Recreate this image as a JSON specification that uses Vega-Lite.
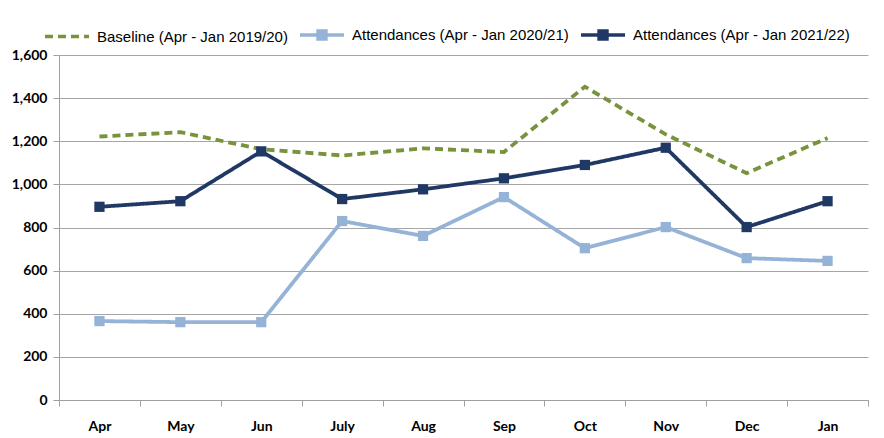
{
  "$schema": "https://vega.github.io/schema/vega-lite/v6.json",
  "width": 809,
  "height": 345,
  "autosize": "none",
  "padding": {"left": 59, "top": 55, "right": 16, "bottom": 38},
  "background": "white",
  "config": {
    "view": {"stroke": null},
    "axis": {"labelFont": "Lato", "labelFontWeight": "bold", "labelFontSize": 14, "labelColor": "#000", "domainColor": "#a0a0a0", "tickColor": "#a0a0a0", "gridColor": "#a6a6a6", "title": null}
  },
  "data": {
    "values": [
      {"month": "Apr", "series": "Baseline (Apr - Jan 2019/20)", "value": 1222},
      {"month": "May", "series": "Baseline (Apr - Jan 2019/20)", "value": 1242},
      {"month": "Jun", "series": "Baseline (Apr - Jan 2019/20)", "value": 1163},
      {"month": "July", "series": "Baseline (Apr - Jan 2019/20)", "value": 1134},
      {"month": "Aug", "series": "Baseline (Apr - Jan 2019/20)", "value": 1167},
      {"month": "Sep", "series": "Baseline (Apr - Jan 2019/20)", "value": 1150},
      {"month": "Oct", "series": "Baseline (Apr - Jan 2019/20)", "value": 1453},
      {"month": "Nov", "series": "Baseline (Apr - Jan 2019/20)", "value": 1232},
      {"month": "Dec", "series": "Baseline (Apr - Jan 2019/20)", "value": 1052},
      {"month": "Jan", "series": "Baseline (Apr - Jan 2019/20)", "value": 1215},
      {"month": "Apr", "series": "Attendances (Apr - Jan 2020/21)", "value": 366},
      {"month": "May", "series": "Attendances (Apr - Jan 2020/21)", "value": 361},
      {"month": "Jun", "series": "Attendances (Apr - Jan 2020/21)", "value": 361},
      {"month": "July", "series": "Attendances (Apr - Jan 2020/21)", "value": 830},
      {"month": "Aug", "series": "Attendances (Apr - Jan 2020/21)", "value": 761},
      {"month": "Sep", "series": "Attendances (Apr - Jan 2020/21)", "value": 941},
      {"month": "Oct", "series": "Attendances (Apr - Jan 2020/21)", "value": 704},
      {"month": "Nov", "series": "Attendances (Apr - Jan 2020/21)", "value": 802},
      {"month": "Dec", "series": "Attendances (Apr - Jan 2020/21)", "value": 658},
      {"month": "Jan", "series": "Attendances (Apr - Jan 2020/21)", "value": 645},
      {"month": "Apr", "series": "Attendances (Apr - Jan 2021/22)", "value": 896},
      {"month": "May", "series": "Attendances (Apr - Jan 2021/22)", "value": 922},
      {"month": "Jun", "series": "Attendances (Apr - Jan 2021/22)", "value": 1153},
      {"month": "July", "series": "Attendances (Apr - Jan 2021/22)", "value": 932},
      {"month": "Aug", "series": "Attendances (Apr - Jan 2021/22)", "value": 977},
      {"month": "Sep", "series": "Attendances (Apr - Jan 2021/22)", "value": 1028},
      {"month": "Oct", "series": "Attendances (Apr - Jan 2021/22)", "value": 1090},
      {"month": "Nov", "series": "Attendances (Apr - Jan 2021/22)", "value": 1170},
      {"month": "Dec", "series": "Attendances (Apr - Jan 2021/22)", "value": 802},
      {"month": "Jan", "series": "Attendances (Apr - Jan 2021/22)", "value": 922}
    ]
  },
  "encoding": {
    "x": {
      "field": "month", "type": "ordinal",
      "sort": ["Apr", "May", "Jun", "July", "Aug", "Sep", "Oct", "Nov", "Dec", "Jan"],
      "scale": {"type": "band", "paddingInner": 0, "paddingOuter": 0},
      "axis": {"labelAngle": 0, "tickBand": "extent", "tickSize": 6, "labelPadding": 13, "grid": false}
    },
    "y": {
      "field": "value", "type": "quantitative",
      "scale": {"domain": [0, 1600], "nice": false},
      "axis": {"values": [0, 200, 400, 600, 800, 1000, 1200, 1400, 1600], "format": ",d", "tickSize": 6, "labelPadding": 6, "grid": true}
    },
    "color": {
      "field": "series", "type": "nominal",
      "scale": {
        "domain": ["Baseline (Apr - Jan 2019/20)", "Attendances (Apr - Jan 2020/21)", "Attendances (Apr - Jan 2021/22)"],
        "range": ["#77933c", "#95b3d7", "#1f3864"]
      },
      "legend": {
        "orient": "none", "legendX": -16, "legendY": -44, "direction": "horizontal", "title": null,
        "labelFont": "Liberation Sans", "labelFontSize": 15, "labelColor": "#000", "labelLimit": 400,
        "symbolSize": 1936, "symbolStrokeWidth": 3.5, "columnPadding": 5, "labelOffset": 6,
        "encode": {
          "symbols": {
            "update": {
              "shape": {"signal": "indexof(datum.label, 'Baseline') >= 0 ? 'M-1,0H1' : 'M-1,0H1M-0.18,-0.18H0.18V0.18H-0.18Z'"},
              "fill": {"scale": "color", "field": "value"}
            }
          }
        }
      }
    }
  },
  "layer": [
    {
      "mark": {"type": "line", "strokeWidth": 3.8, "strokeCap": "butt"},
      "encoding": {
        "strokeDash": {
          "field": "series", "type": "nominal",
          "scale": {
            "domain": ["Baseline (Apr - Jan 2019/20)", "Attendances (Apr - Jan 2020/21)", "Attendances (Apr - Jan 2021/22)"],
            "range": [[8, 5], [1, 0], [1, 0]]
          }
        }
      }
    },
    {
      "transform": [{"filter": "indexof(datum.series, 'Baseline') < 0"}],
      "mark": {"type": "point", "shape": "square", "filled": true, "size": 105, "opacity": 1},
      "encoding": {}
    }
  ]
}
